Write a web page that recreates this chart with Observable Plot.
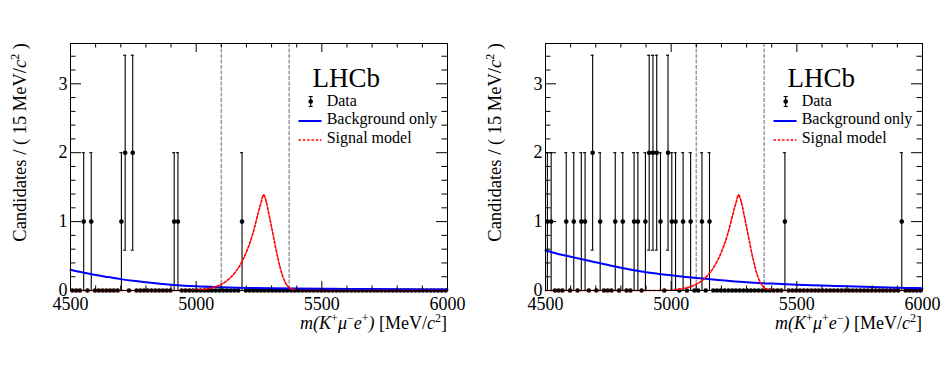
<!DOCTYPE html>
<html>
<head>
<meta charset="utf-8">
<script src="https://cdn.jsdelivr.net/npm/d3@7"></script>
<script src="https://cdn.jsdelivr.net/npm/@observablehq/plot@0.6"></script>
<style>
  html, body { margin: 0; padding: 0; background: #fff; }
  #wrap { position: relative; width: 951px; height: 365px; overflow: hidden; }
  #wrap svg { position: absolute; top: 0; }
  #wrap svg text { font-family: 'Liberation Serif', 'Times New Roman', serif !important; font-variant: normal !important; }
</style>
</head>
<body>
<div id="wrap"></div>
<script>
// ---- data ----
const binStart = 4500;
const binWidth = 15;
// candidates per 15 MeV bin, 100 bins from 4500 to 6000 MeV
const countsLeft = [
  0,0,0,1,0,1,0,0,0,0,
  0,0,0,1,2,0,2,0,0,0,
  0,0,0,0,0,0,0,1,1,0,
  0,0,0,0,0,0,0,0,0,0,
  0,0,0,0,0,1,0,0,0,0,
  0,0,0,0,0,0,0,0,0,0,
  0,0,0,0,0,0,0,0,0,0,
  0,0,0,0,0,0,0,0,0,0,
  0,0,0,0,0,0,0,0,0,0,
  0,0,0,0,0,0,0,0,0,0
];
const countsRight = [
  1,1,0,0,0,1,0,1,0,1,
  1,0,2,0,1,0,0,0,1,0,
  1,0,0,1,1,0,1,2,2,2,
  1,0,2,1,1,0,1,0,1,0,
  0,1,0,1,0,0,0,0,0,0,
  0,0,0,0,0,0,0,0,0,0,
  0,0,0,1,0,0,0,0,0,0,
  0,0,0,0,0,0,0,0,0,0,
  0,0,0,0,0,0,0,0,0,0,
  0,0,0,0,1,0,0,0,0,0
];
// background-only curves (mass, candidates)
const bkgMass = [4500,4550,4600,4650,4700,4750,4800,4900,5000,5100,5200,5300,5400,5500,5600,5700,5800,5900,6000];
const bkgLeft = [0.30,0.26,0.225,0.195,0.165,0.14,0.12,0.085,0.06,0.047,0.038,0.032,0.028,0.025,0.022,0.02,0.018,0.016,0.015];
const bkgRight = [0.58,0.53,0.49,0.45,0.41,0.37,0.33,0.265,0.22,0.18,0.15,0.12,0.10,0.085,0.073,0.06,0.05,0.04,0.033];
// signal model curve (same in both panels)
const sigMass = [4500,4950,5000,5050,5100,5125,5150,5175,5200,5225,5245,5260,5268,5278,5290,5305,5325,5345,5365,5385,5420,6000];
const sigVal  = [0,0,0.005,0.03,0.09,0.15,0.24,0.37,0.56,0.82,1.1,1.3,1.39,1.3,1.1,0.83,0.47,0.2,0.06,0.015,0,0];
// signal window boundaries
const windowLines = [5100, 5370];
// ticks
const xMajorTicks = [4500, 5000, 5500, 6000];
const xMinorTicks = [4600,4700,4800,4900,5100,5200,5300,5400,5600,5700,5800,5900];
const yMajorTicks = [0, 1, 2, 3];
const yMinorTicks = [0.2,0.4,0.6,0.8,1.2,1.4,1.6,1.8,2.2,2.4,2.6,2.8,3.2,3.4];
const yMax = 3.585;
const legendLabels = ["Data", "Background only", "Signal model"];
const experiment = "LHCb";

// ---- layout ----
const W = 475, H = 365, mL = 70, mR = 28, mT = 43, mB = 75;
const FW = W - mL - mR, FH = H - mT - mB;
const FONT = "'Liberation Serif', 'Times New Roman', serif";

function panel(counts, bkg, xTitleParts) {
  const bins = counts.map((n, i) => ({m: binStart + binWidth * i + binWidth / 2, n}));
  const nz = bins.filter(d => d.n > 0);
  const bkgData = bkgMass.map((m, i) => ({m, v: bkg[i]}));
  const sigData = sigMass.map((m, i) => ({m, v: sigVal[i]}));
  const capHalf = 6;
  const svg = Plot.plot({
    width: W, height: H,
    marginLeft: mL, marginRight: mR, marginTop: mT, marginBottom: mB,
    x: {domain: [4500, 6000]},
    y: {domain: [0, yMax]},
    style: {fontFamily: FONT, background: "white", color: "black", overflow: "visible"},
    marks: [
      // signal window
      Plot.ruleX(windowLines, {x: d => d, stroke: "#9a9a9a", strokeWidth: 1.5, strokeDasharray: "4,1.5"}),
      // error bars
      Plot.ruleX(nz, {x: "m", y1: d => d.n - Math.sqrt(d.n), y2: d => d.n + Math.sqrt(d.n), stroke: "black", strokeWidth: 1.1}),
      Plot.ruleY(nz, {y: d => d.n + Math.sqrt(d.n), x1: d => d.m - capHalf, x2: d => d.m + capHalf, stroke: "black", strokeWidth: 1.1}),
      Plot.ruleY(nz, {y: d => d.n - Math.sqrt(d.n), x1: d => d.m - capHalf, x2: d => d.m + capHalf, stroke: "black", strokeWidth: 1.1}),
      // data points
      Plot.dot(bins, {x: "m", y: "n", r: 2.3, fill: "black", stroke: "none"}),
      // background
      Plot.line(bkgData, {x: "m", y: "v", stroke: "#0000ff", strokeWidth: 2, curve: "monotone-x"}),
      // signal
      Plot.line(sigData, {x: "m", y: "v", stroke: "#ff0000", strokeWidth: 1.6, strokeDasharray: "2.5,1.8", curve: "monotone-x"}),
      // ticks (inward, all four sides)
      Plot.ruleX(xMajorTicks, {x: d => d, insetTop: FH - 9, stroke: "black"}),
      Plot.ruleX(xMinorTicks, {x: d => d, insetTop: FH - 4.5, stroke: "black"}),
      Plot.ruleX(xMajorTicks, {x: d => d, insetBottom: FH - 9, stroke: "black"}),
      Plot.ruleX(xMinorTicks, {x: d => d, insetBottom: FH - 4.5, stroke: "black"}),
      Plot.ruleY(yMajorTicks, {y: d => d, insetRight: FW - 11, stroke: "black"}),
      Plot.ruleY(yMinorTicks, {y: d => d, insetRight: FW - 5.5, stroke: "black"}),
      Plot.ruleY(yMajorTicks, {y: d => d, insetLeft: FW - 11, stroke: "black"}),
      Plot.ruleY(yMinorTicks, {y: d => d, insetLeft: FW - 5.5, stroke: "black"}),
      Plot.frame({stroke: "black", strokeWidth: 1}),
      Plot.axisX({ticks: xMajorTicks, tickSize: 0, tickPadding: 7, tickFormat: d3.format("d"), fontSize: 18, label: null}),
      Plot.axisY({ticks: yMajorTicks, tickSize: 0, tickPadding: 3, tickFormat: d3.format("d"), fontSize: 18, label: null})
    ]
  });

  const s = d3.select(svg);

  // x title
  const xt = s.append("text")
    .attr("x", mL + FW).attr("y", 329)
    .attr("text-anchor", "end")
    .style("font-size", "18px").attr("fill", "black");
  for (const p of xTitleParts) {
    const t = xt.append("tspan").text(p.t);
    if (p.i) t.style("font-style", "italic");
    if (p.sup) t.attr("dy", -7).style("font-size", "12px");
    if (p.down) t.attr("dy", 7);
  }

  // y title
  const yt = s.append("text")
    .attr("transform", `translate(26,${mT}) rotate(-90)`)
    .attr("text-anchor", "end")
    .style("font-size", "18.5px").attr("fill", "black");
  yt.append("tspan").text("Candidates / ( 15 MeV/");
  yt.append("tspan").text("c").style("font-style", "italic");
  yt.append("tspan").text("2").attr("dy", -7).style("font-size", "12px");
  yt.append("tspan").text(" )").attr("dy", 7);

  // LHCb label
  s.append("text").attr("x", 312.5).attr("y", 87).attr("text-anchor", "start")
    .style("font-size", "27px").attr("fill", "black").text(experiment);

  // legend
  const lg = s.append("g");
  lg.append("line").attr("x1", 310.7).attr("x2", 310.7).attr("y1", 96.5).attr("y2", 106.5).attr("stroke", "black").attr("stroke-width", 1.1);
  lg.append("line").attr("x1", 308.7).attr("x2", 312.7).attr("y1", 96.5).attr("y2", 96.5).attr("stroke", "black").attr("stroke-width", 1.1);
  lg.append("line").attr("x1", 308.7).attr("x2", 312.7).attr("y1", 106.5).attr("y2", 106.5).attr("stroke", "black").attr("stroke-width", 1.1);
  lg.append("circle").attr("cx", 310.7).attr("cy", 101.5).attr("r", 2.3).attr("fill", "black");
  lg.append("line").attr("x1", 298.5).attr("x2", 321.5).attr("y1", 121).attr("y2", 121).attr("stroke", "#0000ff").attr("stroke-width", 2);
  lg.append("line").attr("x1", 298.5).attr("x2", 321.5).attr("y1", 140).attr("y2", 140).attr("stroke", "#ff0000").attr("stroke-width", 1.6).attr("stroke-dasharray", "2.5,1.8");
  const ly = [106, 124.3, 143.3];
  legendLabels.forEach((lab, i) => {
    lg.append("text").attr("x", 326.7).attr("y", ly[i]).attr("text-anchor", "start")
      .style("font-size", "16px").attr("fill", "black").text(lab);
  });
  return svg;
}

const wrap = document.getElementById("wrap");
const left = panel(countsLeft, bkgLeft, [
  {t: "m(K", i: true}, {t: "+", sup: true}, {t: "μ", i: true, down: true}, {t: "−", sup: true},
  {t: "e", i: true, down: true}, {t: "+", sup: true}, {t: ")", i: true, down: true},
  {t: " [MeV/"}, {t: "c", i: true}, {t: "2", sup: true}, {t: "]", down: true}
]);
left.style.left = "0px";
const right = panel(countsRight, bkgRight, [
  {t: "m(K", i: true}, {t: "+", sup: true}, {t: "μ", i: true, down: true}, {t: "+", sup: true},
  {t: "e", i: true, down: true}, {t: "−", sup: true}, {t: ")", i: true, down: true},
  {t: " [MeV/"}, {t: "c", i: true}, {t: "2", sup: true}, {t: "]", down: true}
]);
right.style.left = "475px";
wrap.appendChild(left);
wrap.appendChild(right);
</script>
</body>
</html>
